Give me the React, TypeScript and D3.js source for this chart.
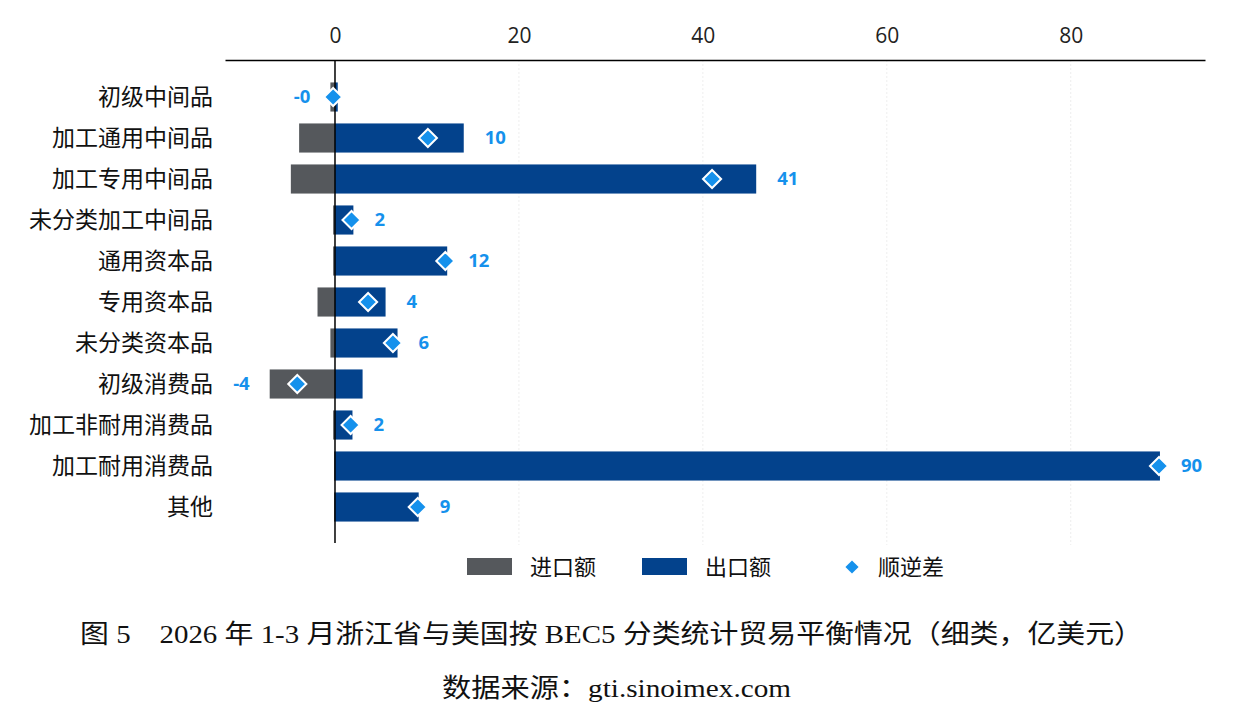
import { useRef, useEffect } from "react";
import * as d3 from "d3";

const categories = [
  "初级中间品",
  "加工通用中间品",
  "加工专用中间品",
  "未分类加工中间品",
  "通用资本品",
  "专用资本品",
  "未分类资本品",
  "初级消费品",
  "加工非耐用消费品",
  "加工耐用消费品",
  "其他",
];
// 亿美元
const imports = [-0.5, -3.9, -4.8, -0.2, -0.2, -1.9, -0.5, -7.1, -0.2, -0.1, -0.1];
const exports = [0.3, 14.0, 45.8, 2.0, 12.2, 5.5, 6.8, 3.0, 1.9, 89.7, 9.1];
const balance = [-0.2, 10.1, 41.0, 1.8, 12.0, 3.6, 6.3, -4.1, 1.7, 89.6, 9.0];
const xTicks = [0, 20, 40, 60, 80];
const legendNames = ["进口额", "出口额", "顺逆差"];

const W = 1236;
const H = 726;
const GREY = "#55585c";
const NAVY = "#03428c";
const BLUE = "#1591ec";
const CJK = "'Noto Sans CJK SC', 'Noto Sans', sans-serif";
const SERIF = "'Liberation Serif', 'Noto Sans CJK SC', serif";
const LATIN = "'Open Sans', 'Noto Sans', sans-serif";

export default function App() {
  const ref = useRef<SVGSVGElement>(null);

  useEffect(() => {
    const svg = d3.select(ref.current);
    svg.selectAll("*").remove();

    const x = d3.scaleLinear().domain([-11.96, 94.6]).range([225, 1205]);
    const y = d3
      .scaleBand()
      .domain(categories)
      .range([76.5, 527.5])
      .paddingInner(0.29)
      .paddingOuter(0.145);

    const rows = categories.map((c, i) => ({
      c,
      imp: imports[i],
      exp: exports[i],
      net: balance[i],
    }));
    const mid = (c: string) => y(c)! + y.bandwidth() / 2;

    // faint grid
    svg
      .append("g")
      .selectAll("line")
      .data(xTicks.filter((t) => t !== 0))
      .join("line")
      .attr("x1", (d) => x(d))
      .attr("x2", (d) => x(d))
      .attr("y1", 60)
      .attr("y2", 545)
      .attr("stroke", "#eeeeee")
      .attr("stroke-dasharray", "2,2");

    // top axis
    const axis = svg
      .append("g")
      .attr("transform", "translate(0,60)")
      .call(d3.axisTop(x).tickValues(xTicks).tickSize(0).tickPadding(17));
    axis.select(".domain").attr("stroke", "#000").attr("stroke-width", 1.5);
    axis
      .selectAll("text")
      .attr("font-family", LATIN)
      .attr("font-size", 21)
      .attr("fill", "#222");

    // bars
    const bars = svg.append("g");
    bars
      .selectAll("rect.imp")
      .data(rows)
      .join("rect")
      .attr("class", "imp")
      .attr("x", (d) => x(d.imp))
      .attr("y", (d) => y(d.c)!)
      .attr("width", (d) => x(0) - x(d.imp))
      .attr("height", y.bandwidth())
      .attr("fill", GREY);
    bars
      .selectAll("rect.exp")
      .data(rows)
      .join("rect")
      .attr("class", "exp")
      .attr("x", x(0))
      .attr("y", (d) => y(d.c)!)
      .attr("width", (d) => x(d.exp) - x(0))
      .attr("height", y.bandwidth())
      .attr("fill", NAVY);

    // zero line
    svg
      .append("line")
      .attr("x1", x(0))
      .attr("x2", x(0))
      .attr("y1", 60)
      .attr("y2", 543)
      .attr("stroke", "#000")
      .attr("stroke-width", 1.5);

    // balance diamonds
    const diamond = d3.symbol().type(d3.symbolDiamond2).size(210);
    svg
      .append("g")
      .selectAll("path")
      .data(rows)
      .join("path")
      .attr("d", diamond)
      .attr("transform", (d) => `translate(${x(d.net)},${mid(d.c)})`)
      .attr("fill", BLUE)
      .attr("stroke", "#fff")
      .attr("stroke-width", 2);

    // value labels beside the bars
    svg
      .append("g")
      .selectAll("text")
      .data(rows)
      .join("text")
      .attr("x", (d) => (d.net >= 0 ? x(d.exp) + 21 : x(d.imp) - 20))
      .attr("y", (d) => mid(d.c))
      .attr("dy", "0.35em")
      .attr("text-anchor", (d) => (d.net >= 0 ? "start" : "end"))
      .attr("font-family", LATIN)
      .attr("font-weight", 700)
      .attr("font-size", 18.5)
      .attr("fill", BLUE)
      .text((d) => (d.net < 0 ? "-" + Math.abs(Math.round(d.net)) : d3.format(".0f")(d.net)));

    // category labels
    svg
      .append("g")
      .selectAll("text")
      .data(categories)
      .join("text")
      .attr("x", 213)
      .attr("y", (d) => mid(d))
      .attr("dy", "0.36em")
      .attr("text-anchor", "end")
      .attr("font-family", CJK)
      .attr("font-size", 23)
      .attr("fill", "#111")
      .text((d) => d);

    // legend
    const lg = svg.append("g").attr("transform", "translate(0,567)");
    lg.append("rect").attr("x", 467).attr("y", -9).attr("width", 45).attr("height", 17).attr("fill", GREY);
    lg.append("rect").attr("x", 642).attr("y", -9).attr("width", 45).attr("height", 17).attr("fill", NAVY);
    lg.append("path")
      .attr("d", d3.symbol().type(d3.symbolDiamond2).size(110)())
      .attr("transform", "translate(852,0)")
      .attr("fill", BLUE);
    lg.selectAll("text")
      .data(legendNames)
      .join("text")
      .attr("x", (d, i) => [530, 705, 878][i])
      .attr("dy", "0.36em")
      .attr("font-family", CJK)
      .attr("font-size", 22)
      .attr("fill", "#111")
      .text((d) => d);

    // caption and source
    svg
      .append("text")
      .attr("x", 80)
      .attr("y", 643)
      .attr("textLength", 1063)
      .attr("lengthAdjust", "spacingAndGlyphs")
      .attr("font-family", SERIF)
      .attr("font-size", 26)
      .attr("fill", "#111")
      .text("图 5　2026 年 1-3 月浙江省与美国按 BEC5 分类统计贸易平衡情况（细类，亿美元）");
    svg
      .append("text")
      .attr("x", 442)
      .attr("y", 697)
      .attr("textLength", 349)
      .attr("lengthAdjust", "spacingAndGlyphs")
      .attr("font-family", SERIF)
      .attr("font-size", 26)
      .attr("fill", "#111")
      .text("数据来源：gti.sinoimex.com");
  }, []);

  return (
    <div style={{ position: "absolute", left: 0, top: 0 }}>
      <svg ref={ref} width={W} height={H} style={{ display: "block", background: "#fff" }} />
    </div>
  );
}
